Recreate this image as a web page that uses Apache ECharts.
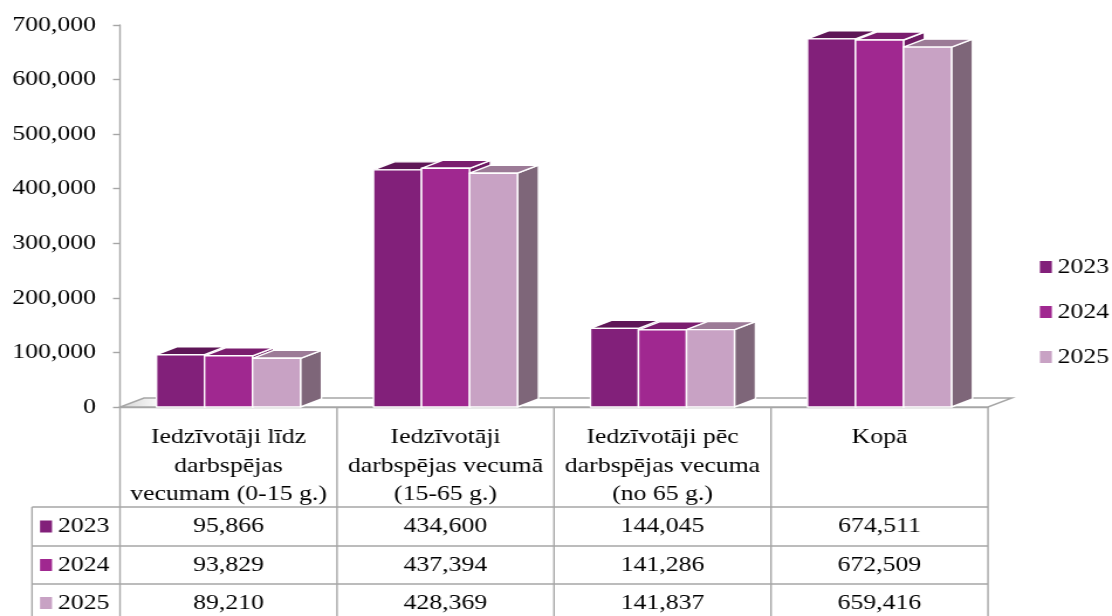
<!DOCTYPE html>
<html><head><meta charset="utf-8">
<script src="https://cdn.jsdelivr.net/npm/echarts@6/dist/echarts.min.js"></script>
<style>
html,body{margin:0;padding:0;background:#fff;overflow:hidden}
#c{width:950px;height:616px;transform:scaleX(1.170526);transform-origin:0 0}
</style>
</head><body><div id="c"></div>
<script>
var categories = ['Iedzīvotāji līdz\ndarbspējas\nvecumam (0-15 g.)', 'Iedzīvotāji\ndarbspējas vecumā\n(15-65 g.)', 'Iedzīvotāji pēc\ndarbspējas vecuma\n(no 65 g.)', 'Kopā'];
var years = ['2023', '2024', '2025'];
var values2023 = [95866, 434600, 144045, 674511];
var values2024 = [93829, 437394, 141286, 672509];
var values2025 = [89210, 428369, 141837, 659416];
var yTicks = [0, 100000, 200000, 300000, 400000, 500000, 600000, 700000];

var seriesValues = [values2023, values2024, values2025];
var palette = [
  {front:'#82207a', top:'#5e1657', side:'#5a1654'},
  {front:'#a02890', top:'#7a1d6e', side:'#6e1b64'},
  {front:'#c8a2c4', top:'#9c7b97', side:'#7e6679'}
];
var FONT = '"Liberation Serif","Times New Roman",serif';
var S = 1112 / 950;           // horizontal stretch applied by CSS
function hx(px){ return px / S; } // target-pixel x distance -> chart x distance
var DX = hx(21), DY = -8, BW = hx(48);

function fmt(v){ return v.toLocaleString('en-US'); }

var chart = echarts.init(document.getElementById('c'), null, {renderer:'canvas'});

function barRender(si){
  return function(params, api){
    var ci = api.value(0), v = api.value(1);
    var base = api.coord([ci, 0]);
    var top = api.coord([ci, v]);
    var x0 = base[0] - 1.5*BW + si*BW, x1 = x0 + BW;
    var yb = base[1], yt = top[1];
    var c = palette[si];
    var st = {stroke:'#ffffff', lineWidth:1.4, lineJoin:'round'};
    return {type:'group', children:[
      {type:'polygon', shape:{points:[[x1,yb],[x1+DX,yb+DY],[x1+DX,yt+DY],[x1,yt]]}, style:Object.assign({fill:c.side}, st)},
      {type:'polygon', shape:{points:[[x0,yt],[x1,yt],[x1+DX,yt+DY],[x0+DX,yt+DY]]}, style:Object.assign({fill:c.top}, st)},
      {type:'rect', shape:{x:x0, y:yt, width:BW, height:yb-yt}, style:Object.assign({fill:c.front}, st)}
    ]};
  };
}

var series = years.map(function(y, si){
  return {
    name: y, type:'custom', renderItem: barRender(si), clip:false,
    itemStyle:{color: palette[si].front},
    encode:{x:0, y:1},
    data: seriesValues[si].map(function(v, i){ return [i, v]; }),
    z: 3
  };
});

// floor
series.unshift({
  type:'custom', silent:true, clip:false, z:1,
  renderItem:function(params, api){
    if (params.dataIndex !== 0) return null;
    var a = api.coord([0,0]);
    var w = api.size([1,0])[0];
    var xl = a[0] - w/2, xr = a[0] + w*3.5, y = a[1];
    var d = hx(24);
    return {type:'polygon', shape:{points:[[xl,y],[xr,y],[xr+d,y-9],[xl+d,y-9]]},
      style:{fill:new echarts.graphic.LinearGradient(0,0,1,0,[{offset:0,color:'#d4d4d4'},{offset:0.05,color:'#ffffff'},{offset:1,color:'#ffffff'}]), stroke:'#a6a6a6', lineWidth:1.4}};
  },
  data:[[0,0]]
});

chart.setOption({
  animation:false,
  textStyle:{fontFamily:FONT},
  grid:{left:hx(120), right:hx(124), top:25, bottom:209},
  legend:{
    data:years, orient:'vertical', left:hx(1034), top:251, icon:'rect', padding:[5,0,5,5],
    itemWidth:hx(12), itemHeight:12, itemGap:23,
    textStyle:{fontFamily:FONT, fontSize:22, color:'#000'}
  },
  xAxis:{
    type:'category', data:categories,
    axisLine:{show:true, lineStyle:{color:'#a6a6a6', width:1.4}},
    axisTick:{show:false},
    axisLabel:{interval:0, margin:16, fontFamily:FONT, fontSize:22, lineHeight:28.5, color:'#000'}
  },
  yAxis:{
    type:'value', min:yTicks[0], max:yTicks[yTicks.length-1], interval:yTicks[1]-yTicks[0],
    axisLine:{show:true, lineStyle:{color:'#a6a6a6', width:1.4}},
    axisTick:{show:true, length:hx(7), lineStyle:{color:'#a6a6a6', width:1.4}},
    splitLine:{show:false},
    axisLabel:{margin:hx(24), fontFamily:FONT, fontSize:22, color:'#000', formatter:function(v){return fmt(v);}}
  },
  series: series
});

// data table
function buildTable(){
  var g = [];
  var c0 = chart.convertToPixel({xAxisIndex:0}, 0);
  var c1 = chart.convertToPixel({xAxisIndex:0}, 1);
  var w = c1 - c0;
  var left = c0 - w/2, right = c0 + w*3.5;
  var y0 = chart.convertToPixel({yAxisIndex:0}, 0);
  var rowTops = [507, 546, 584, 622];
  var lineSt = {stroke:'#a6a6a6', lineWidth:1.4};
  for (var k=0;k<=categories.length;k++){
    var x = left + k*w;
    g.push({type:'line', shape:{x1:x, y1:y0, x2:x, y2:620}, style:lineSt});
  }
  g.push({type:'line', shape:{x1:hx(32), y1:rowTops[0], x2:hx(32), y2:620}, style:lineSt});
  for (var r=0;r<3;r++){
    g.push({type:'line', shape:{x1:hx(32), y1:rowTops[r], x2:right, y2:rowTops[r]}, style:lineSt});
    var cy = (rowTops[r]+rowTops[r+1])/2;
    g.push({type:'rect', shape:{x:hx(40), y:cy-6, width:hx(12), height:12}, style:{fill:palette[r].front}});
    g.push({type:'text', style:{text:years[r], x:hx(58), y:cy, font:'22px '+FONT, fill:'#000', textAlign:'left', textVerticalAlign:'middle'}});
    for (var ci=0; ci<categories.length; ci++){
      g.push({type:'text', style:{text:fmt(seriesValues[r][ci]), x:left + (ci+0.5)*w, y:cy, font:'22px '+FONT, fill:'#000', textAlign:'center', textVerticalAlign:'middle'}});
    }
  }
  chart.setOption({graphic:{elements:g}});
}
buildTable();
</script>
</body></html>
